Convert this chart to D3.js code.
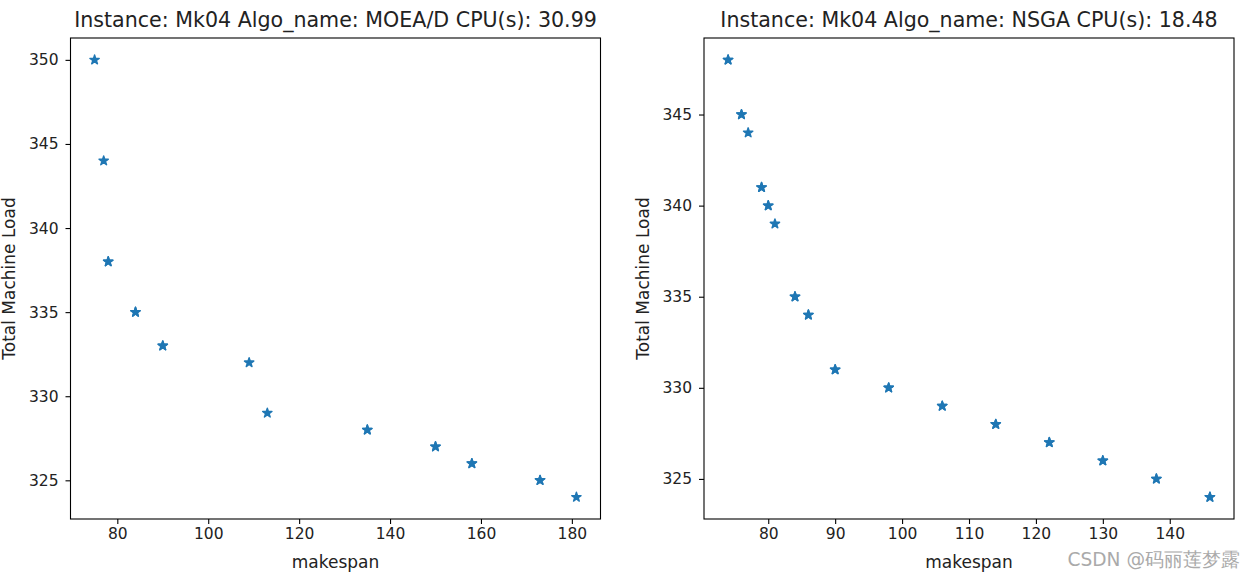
<!DOCTYPE html>
<html><head><meta charset="utf-8">
<script src="https://cdn.jsdelivr.net/npm/d3@7"></script>
<style>body{margin:0;background:#fff}svg{display:block}text{font-family:"DejaVu Sans",sans-serif}</style>
</head><body>
<script>
// MOEA/D panel data (duplicated points appear twice, as in the source)
const moeaMakespan = [75, 77, 78, 78, 84, 84, 90, 90, 109, 113, 135, 135, 150, 150, 158, 158, 173, 173, 181];
const moeaLoad     = [350, 344, 338, 338, 335, 335, 333, 333, 332, 329, 328, 328, 327, 327, 326, 326, 325, 325, 324];
// NSGA panel data
const nsgaMakespan = [74, 74, 76, 76, 77, 79, 79, 80, 80, 81, 84, 84, 86, 86, 90, 90, 98, 98, 106, 106, 114, 114, 122, 122, 130, 130, 138, 138, 146, 146];
const nsgaLoad     = [348, 348, 345, 345, 344, 341, 341, 340, 340, 339, 335, 335, 334, 334, 331, 331, 330, 330, 329, 329, 328, 328, 327, 327, 326, 326, 325, 325, 324, 324];
const moeaXTicks = [80, 100, 120, 140, 160, 180];
const moeaYTicks = [325, 330, 335, 340, 345, 350];
const nsgaXTicks = [80, 90, 100, 110, 120, 130, 140];
const nsgaYTicks = [325, 330, 335, 340, 345];
const titles = ["Instance: Mk04 Algo_name: MOEA/D CPU(s): 30.99", "Instance: Mk04 Algo_name: NSGA CPU(s): 18.48"];
const xLabel = "makespan", yLabel = "Total Machine Load";

const W = 1256, H = 578;
const svg = d3.select("body").append("svg").attr("width", W).attr("height", H);
const color = "#1f77b4";

function panel(left, xs, ys, xticks, yticks, title, ylabX) {
  const x0 = left, x1 = left + 530, y0 = 38, y1 = 519;
  const xmin = d3.min(xs), xmax = d3.max(xs), ymin = d3.min(ys), ymax = d3.max(ys);
  const xm = (xmax - xmin) * 0.05, ym = (ymax - ymin) * 0.05;
  const x = d3.scaleLinear().domain([xmin - xm, xmax + xm]).range([x0, x1]);
  const y = d3.scaleLinear().domain([ymin - ym, ymax + ym]).range([y1, y0]);
  const g = svg.append("g");

  const star = d3.symbol().type(d3.symbolStar).size(27);
  g.selectAll("path.pt").data(xs.map((d, i) => [d, ys[i]])).enter().append("path")
    .attr("class", "pt").attr("d", star)
    .attr("transform", d => `translate(${x(d[0])},${y(d[1])})`)
    .attr("fill", color).attr("stroke", color).attr("stroke-width", 1.4).attr("stroke-linejoin", "round");

  const ax = g.append("g").attr("transform", `translate(0,${y1})`)
    .call(d3.axisBottom(x).tickValues(xticks).tickSize(5).tickPadding(4).tickFormat(d3.format("d")));
  const ay = g.append("g").attr("transform", `translate(${x0},0)`)
    .call(d3.axisLeft(y).tickValues(yticks).tickSize(5).tickPadding(7).tickFormat(d3.format("d")));
  [ax, ay].forEach(a => {
    a.select(".domain").remove();
    a.selectAll("line").attr("stroke", "#000").attr("stroke-width", 1.1);
    a.selectAll("text").attr("font-size", 15.5).attr("fill", "#222").attr("font-family", "DejaVu Sans");
  });
  g.append("rect").attr("x", x0).attr("y", y0).attr("width", x1 - x0).attr("height", y1 - y0)
    .attr("fill", "none").attr("stroke", "#000").attr("stroke-width", 1.1);

  g.append("text").attr("x", (x0 + x1) / 2).attr("y", 27).attr("text-anchor", "middle")
    .attr("font-size", 20.6).attr("fill", "#222").text(title);
  g.append("text").attr("x", (x0 + x1) / 2).attr("y", 568).attr("text-anchor", "middle")
    .attr("font-size", 17).attr("fill", "#222").text(xLabel);
  g.append("text").attr("transform", `translate(${ylabX},${(y0 + y1) / 2}) rotate(-90)`)
    .attr("text-anchor", "middle").attr("font-size", 17).attr("fill", "#222").text(yLabel);
}

panel(70.5, moeaMakespan, moeaLoad, moeaXTicks, moeaYTicks, titles[0], 14.5);
panel(704, nsgaMakespan, nsgaLoad, nsgaXTicks, nsgaYTicks, titles[1], 649);

svg.append("text").attr("x", 1240).attr("y", 566).attr("text-anchor", "end")
  .attr("font-size", 18.6).attr("fill", "#aaa")
  .attr("font-family", "'Noto Sans CJK SC', 'DejaVu Sans', sans-serif").text("CSDN @码丽莲梦露");
</script>
</body></html>
